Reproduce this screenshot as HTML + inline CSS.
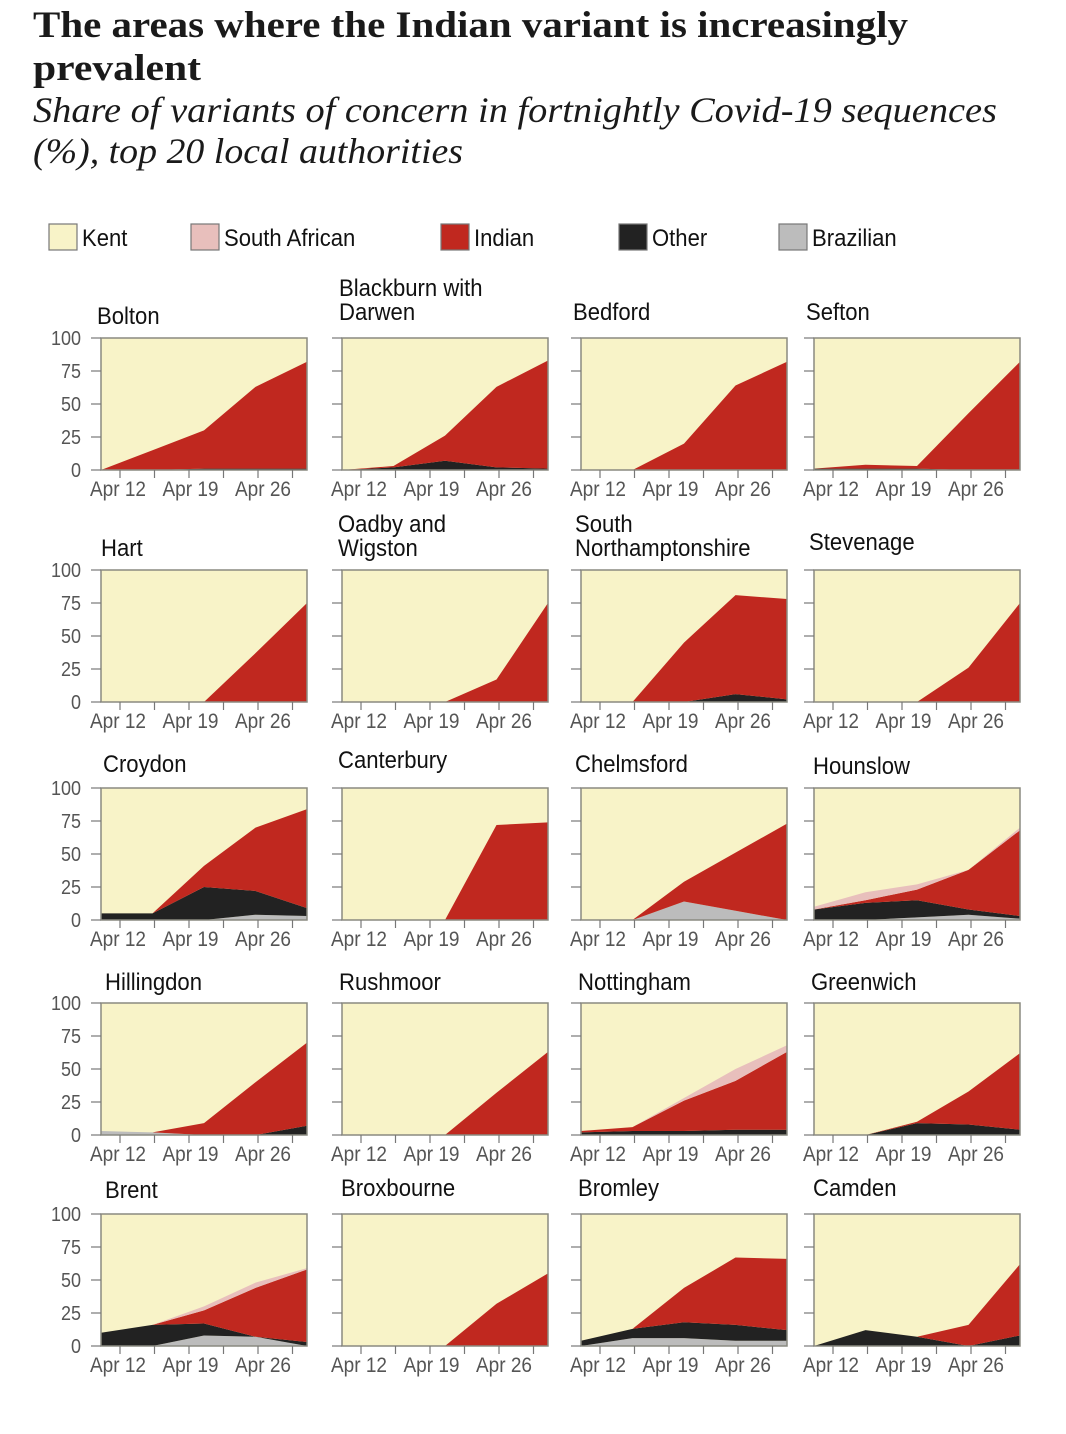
<!DOCTYPE html>
<html><head><meta charset="utf-8">
<style>
body{margin:0;background:#fff;width:1066px;height:1434px;overflow:hidden}
svg{display:block}
.nar{font-family:"Liberation Sans Narrow","Liberation Sans",sans-serif}
</style></head>
<body>
<svg id="chart" width="1066" height="1434" xmlns="http://www.w3.org/2000/svg">
<text x="33" y="37" font-family="Liberation Serif" font-weight="bold" font-size="37" fill="#1a1a1a" textLength="875" lengthAdjust="spacingAndGlyphs">The areas where the Indian variant is increasingly</text>
<text x="33" y="80" font-family="Liberation Serif" font-weight="bold" font-size="37" fill="#1a1a1a" textLength="168" lengthAdjust="spacingAndGlyphs">prevalent</text>
<text x="33" y="122" font-family="Liberation Serif" font-style="italic" font-size="36" fill="#1a1a1a" textLength="964" lengthAdjust="spacingAndGlyphs">Share of variants of concern in fortnightly Covid-19 sequences</text>
<text x="33" y="163" font-family="Liberation Serif" font-style="italic" font-size="36" fill="#1a1a1a" textLength="430" lengthAdjust="spacingAndGlyphs">(%), top 20 local authorities</text>
<g id="legend"></g>
<g id="panels"></g>
</svg>
<script>
const NS="http://www.w3.org/2000/svg";
const names=["Bolton","Blackburn with Darwen","Bedford","Sefton","Hart","Oadby and Wigston","South Northamptonshire","Stevenage","Croydon","Canterbury","Chelmsford","Hounslow","Hillingdon","Rushmoor","Nottingham","Greenwich","Brent","Broxbourne","Bromley","Camden"];
const brazilian=[[0,0,0,0,0],[0,0,0,0,0],[0,0,0,0,0],[0,0,0,0,0],[0,0,0,0,0],[0,0,0,0,0],[0,0,0,0,0],[0,0,0,0,0],[0,0,0,4,3],[0,0,0,0,0],[0,0,14,7,0],[0,0,2,4,1],[3,2,0,0,0],[0,0,0,0,0],[0,0,0,0,0],[0,0,0,0,0],[0,0,8,7,0],[0,0,0,0,0],[0,6,6,4,4],[0,0,0,0,0]];
const other=[[0,0,1,1,1],[0,2,7,2,1],[0,0,0,0,0],[1,1,1,0,0],[0,0,0,0,0],[0,0,0,0,0],[0,0,0,6,2],[0,0,0,0,0],[5,5,25,18,6],[0,0,0,0,0],[0,0,0,0,0],[8,13,13,4,2],[0,0,0,0,7],[0,0,0,0,0],[2,3,3,4,4],[0,0,9,8,4],[10,16,9,0,3],[0,0,0,0,0],[4,7,12,12,8],[0,12,7,0,8]];
const indian=[[0,15,29,62,81],[0,1,19,61,82],[0,0,20,64,82],[0,3,2,43,82],[0,0,0,37,75],[0,0,0,17,75],[0,0,45,75,76],[0,0,0,26,75],[0,0,16,48,75],[0,0,0,72,74],[0,0,15,44,73],[0,2,8,30,65],[0,0,9,40,63],[0,0,0,32,63],[1,3,23,37,59],[0,0,1,25,58],[0,0,10,37,55],[0,0,0,32,55],[0,0,26,51,54],[0,0,0,16,54]];
const southAfrican=[[0,0,0,0,0],[0,0,0,0,0],[0,0,0,0,0],[0,0,0,0,0],[0,0,0,0,0],[0,0,0,0,0],[0,0,0,0,0],[0,0,0,0,0],[0,0,0,0,0],[0,0,0,0,0],[0,0,0,0,0],[2,6,4,0,2],[0,0,0,0,0],[0,0,0,0,0],[0,0,2,9,5],[0,0,0,0,0],[0,0,3,4,1],[0,0,0,0,0],[0,0,0,0,0],[0,0,0,0,0]];
const yTicks=[0,25,50,75,100];
const xTickLabels=["Apr 12","Apr 19","Apr 26"];
const legendNames=["Kent","South African","Indian","Other","Brazilian"];
const colors={kent:"#f8f3c8",sa:"#e8bfbc",indian:"#c0281f",other:"#222222",brazilian:"#bcbcbc"};
const lefts=[101,342,581,814], tops=[338,570,788,1003,1214], W=206, H=132;
const titlePos=[[97,324],[339,320],[573,320],[806,320],[101,556],[338,556],[575,556],[809,550],[103,772],[338,768],[575,772],[813,774],[105,990],[339,990],[578,990],[811,990],[105,1198],[341,1196],[578,1196],[813,1196]];
const titleLines={"Blackburn with Darwen":["Blackburn with","Darwen"],"Oadby and Wigston":["Oadby and","Wigston"],"South Northamptonshire":["South","Northamptonshire"]};
function mk(tag,attrs,parent){const e=document.createElementNS(NS,tag);for(const k in attrs)e.setAttribute(k,attrs[k]);parent.appendChild(e);return e;}
function narrow(t,f){const l=t.getComputedTextLength();t.setAttribute('textLength',(l*f).toFixed(1));t.setAttribute('lengthAdjust','spacingAndGlyphs');}
const lg=document.getElementById('legend');
const legX=[49,191,441,619,779], legC=[colors.kent,colors.sa,colors.indian,colors.other,colors.brazilian];
legendNames.forEach((n,i)=>{
  const g=mk('g',{},lg);
  
  
  mk('rect',{x:legX[i],y:224,width:28,height:26,fill:legC[i],stroke:'#777','stroke-width':1.2},g);
  const t=mk('text',{x:legX[i]+33,y:246,'font-size':24,fill:'#111',class:'nar'},g);t.textContent=n;narrow(t,0.92);
});
const pg=document.getElementById('panels');
names.forEach((name,p)=>{
  const c=p%4,r=Math.floor(p/4),L=lefts[c],T=tops[r];
  const g=mk('g',{},pg);
  
  
  const xs=i=>L+i*W/4, ys=v=>T+H-v*H/100;
  const lines=titleLines[name]||[name];const [tx,ty]=titlePos[p];
  lines.forEach((ln,k)=>{const t=mk('text',{x:tx,y:ty-(lines.length-1-k)*24,'font-size':24,fill:'#111',class:'nar'},g);t.textContent=ln;narrow(t,0.92);
    });
  mk('rect',{x:L,y:T,width:W,height:H,fill:colors.kent},g);
  const layers=[brazilian[p],other[p],indian[p],southAfrican[p]];
  const lc=[colors.brazilian,colors.other,colors.indian,colors.sa];
  const ln=['brazilian','other','indian','south-african'];
  let base=[0,0,0,0,0];
  layers.forEach((arr,li)=>{
    const topv=base.map((b,i)=>b+arr[i]);
    let d='M'+xs(0)+','+ys(topv[0]);
    for(let i=1;i<5;i++)d+='L'+xs(i)+','+ys(topv[i]);
    for(let i=4;i>=0;i--)d+='L'+xs(i)+','+ys(base[i]);
    d+='Z';
    const a=mk('path',{d:d,fill:lc[li]},g);
    
    
    base=topv;
  });
  mk('rect',{x:L,y:T,width:W,height:H,fill:'none',stroke:'#8a8a80','stroke-width':1.5},g);
  yTicks.forEach(v=>{
    mk('line',{x1:L-10,x2:L,y1:ys(v),y2:ys(v),stroke:'#777','stroke-width':1.2},g);
    if(c===0){const t=mk('text',{x:81,y:ys(v)+7,'font-size':20,fill:'#555','text-anchor':'end',class:'nar'},g);t.textContent=v;narrow(t,0.9);
      }
  });
  for(let k=0;k<6;k++)mk('line',{x1:L+19+k*34.5,x2:L+19+k*34.5,y1:T+H,y2:T+H+8,stroke:'#777','stroke-width':1.2},g);
  xTickLabels.forEach((s,k)=>{const t=mk('text',{x:L+17+k*72.5,y:T+H+26,'font-size':21,fill:'#555','text-anchor':'middle',class:'nar'},g);t.textContent=s;
    t.setAttribute('textLength','56');t.setAttribute('lengthAdjust','spacingAndGlyphs');
    });
});
</script>
</body></html>
